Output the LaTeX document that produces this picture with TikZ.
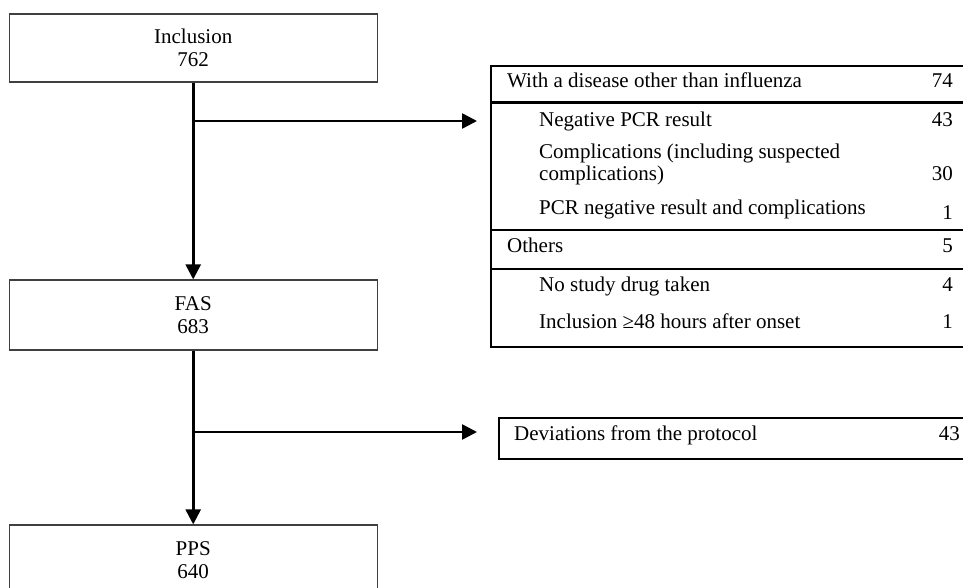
\documentclass[tikz,border=0pt]{standalone}
\usepackage{fontspec}
\setmainfont{Liberation Serif}
\usetikzlibrary{arrows.meta,calc}
\begin{document}
\begin{tikzpicture}[x=1pt,y=-1pt,
  every node/.style={font=\fontsize{21}{23}\selectfont, inner sep=0pt},
  flowbox/.style={draw=black!75, line width=1.2pt, minimum width=368pt, minimum height=68pt, align=center},
  tabline/.style={line width=2.4pt},
  arr/.style={line width=2.6pt, -{Triangle[length=15pt,width=15pt]}},
  tcell/.style={anchor=west, text height=0.7em, text depth=0.2em},
  tnum/.style={anchor=east, text height=0.7em, text depth=0.2em}]
\useasboundingbox (0,0) rectangle (963,588);
\clip (0,0) rectangle (963,588);

% flow boxes
\node[flowbox] (incl) at (193.2,48) {Inclusion\\762};
\node[flowbox, minimum height=70pt] (fas) at (193.2,315) {FAS\\683};
\node[flowbox, minimum height=70pt] (pps) at (193.2,560) {PPS\\640};

% exclusion table
\node[draw, tabline, anchor=north west, minimum width=500pt, minimum height=280.7pt] (tab) at (490,65) {};
\draw[tabline] (490,102.7) -- (995,102.7);
\draw[tabline] (490,230) -- (995,230);
\draw[tabline] (490,269) -- (995,269);

\node[tcell] (r1) at (507,85) {With a disease other than influenza};
\node[tnum] (n1) at (953,85) {74};
\node[tcell] (r2) at (539,124) {Negative PCR result};
\node[tnum] (n2) at (953,124) {43};
\node[tcell] (r3a) at (539,156) {Complications (including suspected};
\node[tcell] (r3b) at (539,178) {complications)};
\node[tnum] (n3) at (953,178) {30};
\node[tcell] (r4) at (539,212) {PCR negative result and complications};
\node[tnum] (n4) at (953,217) {1};
\node[tcell] (r5) at (507,250) {Others};
\node[tnum] (n5) at (953,250) {5};
\node[tcell] (r6) at (539,289) {No study drug taken};
\node[tnum] (n6) at (953,289) {4};
\node[tcell] (r7) at (539,326) {Inclusion ≥48 hours after onset};
\node[tnum] (n7) at (953,326) {1};

% deviations box
\node[draw, tabline, anchor=north west, minimum width=500pt, minimum height=41pt] (dev) at (498,417) {};
\node[tcell] (d1) at (514,438) {Deviations from the protocol};
\node[tnum] (d2) at (960,438) {43};

% connectors
\coordinate (b1) at (193.2,121);
\coordinate (b2) at (193.2,432);
\draw[arr] (incl.south) -- (fas.north);
\draw[arr] (fas.south) -- (pps.north);
\draw[arr, shorten >=13pt] (b1) -- (b1 -| tab.west);
\draw[arr, shorten >=21pt] (b2) -- (b2 -| dev.west);
\end{tikzpicture}
\end{document}
